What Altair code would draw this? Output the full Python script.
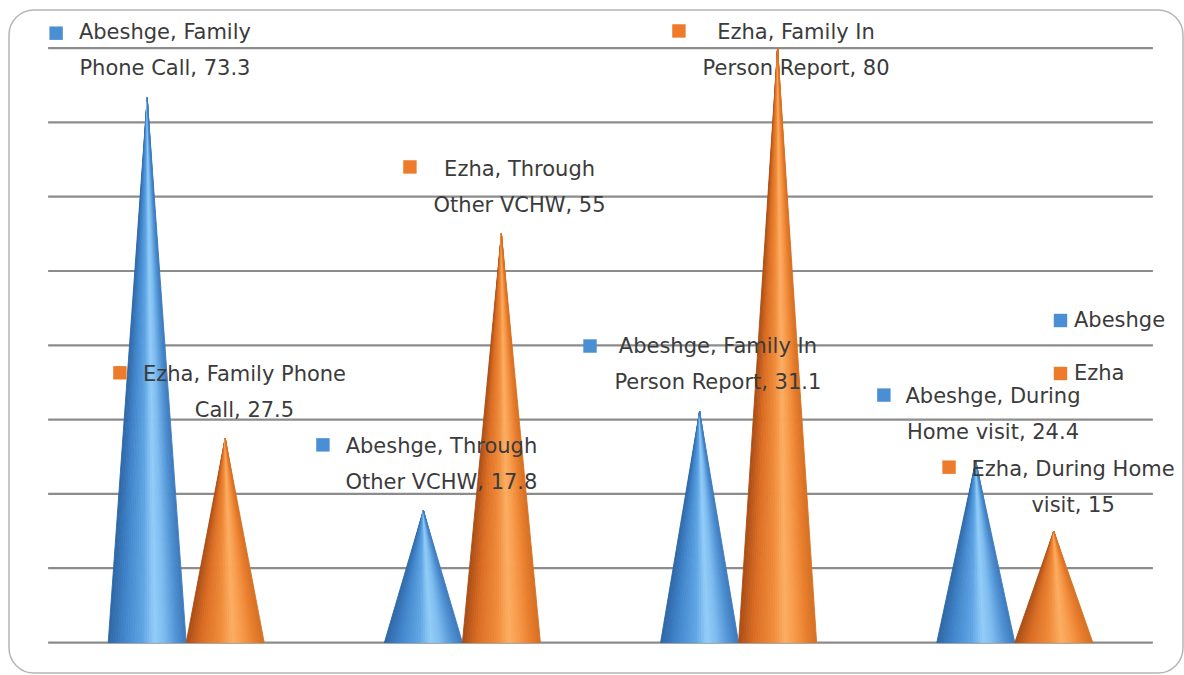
import altair as alt
import pandas as pd

# ---------------- data ----------------
categories = ["Family Phone Call", "Through Other VCHW", "Family In Person Report", "During Home visit"]
series = ["Abeshge", "Ezha"]
abeshge = [73.3, 17.8, 31.1, 24.4]
ezha = [27.5, 55, 80, 15]
grid_values = [0, 10, 20, 30, 40, 50, 60, 70, 80]

# data labels (order: Abeshge/Ezha for each category)
label_series = ["Abeshge", "Ezha", "Abeshge", "Ezha", "Abeshge", "Ezha", "Abeshge", "Ezha"]
label_line1 = ["Abeshge, Family", "Ezha, Family Phone", "Abeshge, Through", "Ezha, Through",
               "Abeshge, Family In", "Ezha, Family In", "Abeshge, During", "Ezha, During Home"]
label_line2 = ["Phone Call, 73.3", "Call, 27.5", "Other VCHW, 17.8", "Other VCHW, 55",
               "Person Report, 31.1", "Person Report, 80", "Home visit, 24.4", "visit, 15"]
# label placement in data units (category index / value)
label_x = [-0.077, 0.211, 0.924, 1.207, 1.925, 2.208, 2.921, 3.211]
label_y = [82.0, 36.0, 26.3, 63.6, 39.8, 82.0, 33.0, 23.2]
marker_x = [-0.471, -0.240, 0.495, 0.810, 1.462, 1.784, 2.526, 2.762]
marker_y = [82.0, 36.3, 26.6, 64.0, 39.9, 82.3, 33.3, 23.6]

# ---------------- styling helpers ----------------
series_colors = ["#4a8fd4", "#ee7b2c"]
blue_stops = [(0.0, "#2e66a4"), (0.2, "#4184ca"), (0.45, "#5fa5e4"), (0.6, "#93cdf8"),
              (0.72, "#7ebdf0"), (0.88, "#5192d4"), (1.0, "#3d7abc")]
orange_stops = [(0.0, "#a84c16"), (0.2, "#db6e24"), (0.45, "#f08c3a"), (0.6, "#fbae64"),
                (0.72, "#f79c4c"), (0.88, "#e97e2d"), (1.0, "#d57023")]


def interp(stops, t):
    for (t0, c0), (t1, c1) in zip(stops[:-1], stops[1:]):
        if t0 <= t <= t1:
            f = (t - t0) / (t1 - t0)
            a = [int(c0[i:i + 2], 16) for i in (1, 3, 5)]
            b = [int(c1[i:i + 2], 16) for i in (1, 3, 5)]
            return "#" + "".join(f"{round(a[j] + (b[j] - a[j]) * f):02x}" for j in range(3))
    return stops[-1][1]


HALF = 0.1412   # half base width of a cone (category units)
N = 32          # shading slivers per cone

rows = []
for s_idx, (name, vals) in enumerate(zip(series, [abeshge, ezha])):
    stops = blue_stops if s_idx == 0 else orange_stops
    for c_idx, v in enumerate(vals):
        c = c_idx + (-HALF if s_idx == 0 else HALF)
        left = c - HALF
        for k in range(N):
            a = left + 2 * HALF * k / N
            b = left + 2 * HALF * (k + 1) / N
            col = interp(stops, (k + 0.5) / N)
            gid = f"{name}-{c_idx}-{k:02d}"
            if k < N // 2:
                b = min(b, c - 1e-6)
                pts = [(a, 0, 0), (b, v * (b - a) / (c - a), 0), (c, v, v)]
            else:
                a = max(a, c + 1e-6)
                pts = [(c, v, v), (a, v * (b - a) / (b - c), 0), (b, 0, 0)]
            for (x, y, y2) in pts:
                rows.append(dict(gid=gid, x=x, y=y, y2=y2, color=col))
cones = pd.DataFrame(rows)

grid = pd.DataFrame({"y": grid_values, "x0": -0.5, "x1": 3.5})
labels = pd.DataFrame({"series": label_series, "line1": label_line1, "line2": label_line2,
                       "lx": label_x, "ly": label_y, "mx": marker_x, "my": marker_y})

xs = alt.Scale(domain=[-0.6416, 3.609], nice=False, zero=False)
ys = alt.Scale(domain=[-4.10, 85.12], nice=False, zero=False)

grid_layer = alt.Chart(grid).mark_rule(color="#8c8c8c", strokeWidth=2.2).encode(
    x=alt.X("x0:Q", scale=xs, axis=None), x2="x1:Q",
    y=alt.Y("y:Q", scale=ys, axis=None))

cone_layer = alt.Chart(cones).mark_area(orient="vertical", interpolate="linear", strokeWidth=0.9).encode(
    x=alt.X("x:Q", scale=xs, axis=None),
    y=alt.Y("y:Q", scale=ys, axis=None, stack=None), y2="y2:Q",
    detail="gid:N",
    fill=alt.Fill("color:N", scale=None),
    stroke=alt.Stroke("color:N", scale=None))

marker_layer = alt.Chart(labels).mark_square(size=180, opacity=1).encode(
    x=alt.X("mx:Q", scale=xs, axis=None),
    y=alt.Y("my:Q", scale=ys, axis=None),
    color=alt.Color("series:N", scale=alt.Scale(domain=series, range=series_colors),
                    legend=alt.Legend(orient="none", legendX=1041, legendY=300, title=None,
                                      symbolType="square", symbolSize=180, symbolStrokeWidth=0,
                                      symbolOpacity=1, labelFont="DejaVu Sans", labelFontSize=21,
                                      labelColor="#3b3b3b", rowPadding=31, labelOffset=3, padding=0)))

text_kw = dict(font="DejaVu Sans", fontSize=21, color="#3b3b3b", align="center", baseline="middle")
text1 = alt.Chart(labels).mark_text(**text_kw).encode(
    x=alt.X("lx:Q", scale=xs, axis=None), y=alt.Y("ly:Q", scale=ys, axis=None), text="line1:N")
text2 = alt.Chart(labels).mark_text(dy=36, **text_kw).encode(
    x=alt.X("lx:Q", scale=xs, axis=None), y=alt.Y("ly:Q", scale=ys, axis=None), text="line2:N")

chart = alt.layer(grid_layer, cone_layer, marker_layer, text1, text2).properties(
    width=1174, height=663,
    padding={"left": 9, "top": 10, "right": 1, "bottom": 2},
    autosize="none",
    background="white",
).configure_view(stroke="#b5b5b5", strokeWidth=1.5, cornerRadius=25)

chart.save("out.html", embed_options={"renderer": "svg", "actions": False})
